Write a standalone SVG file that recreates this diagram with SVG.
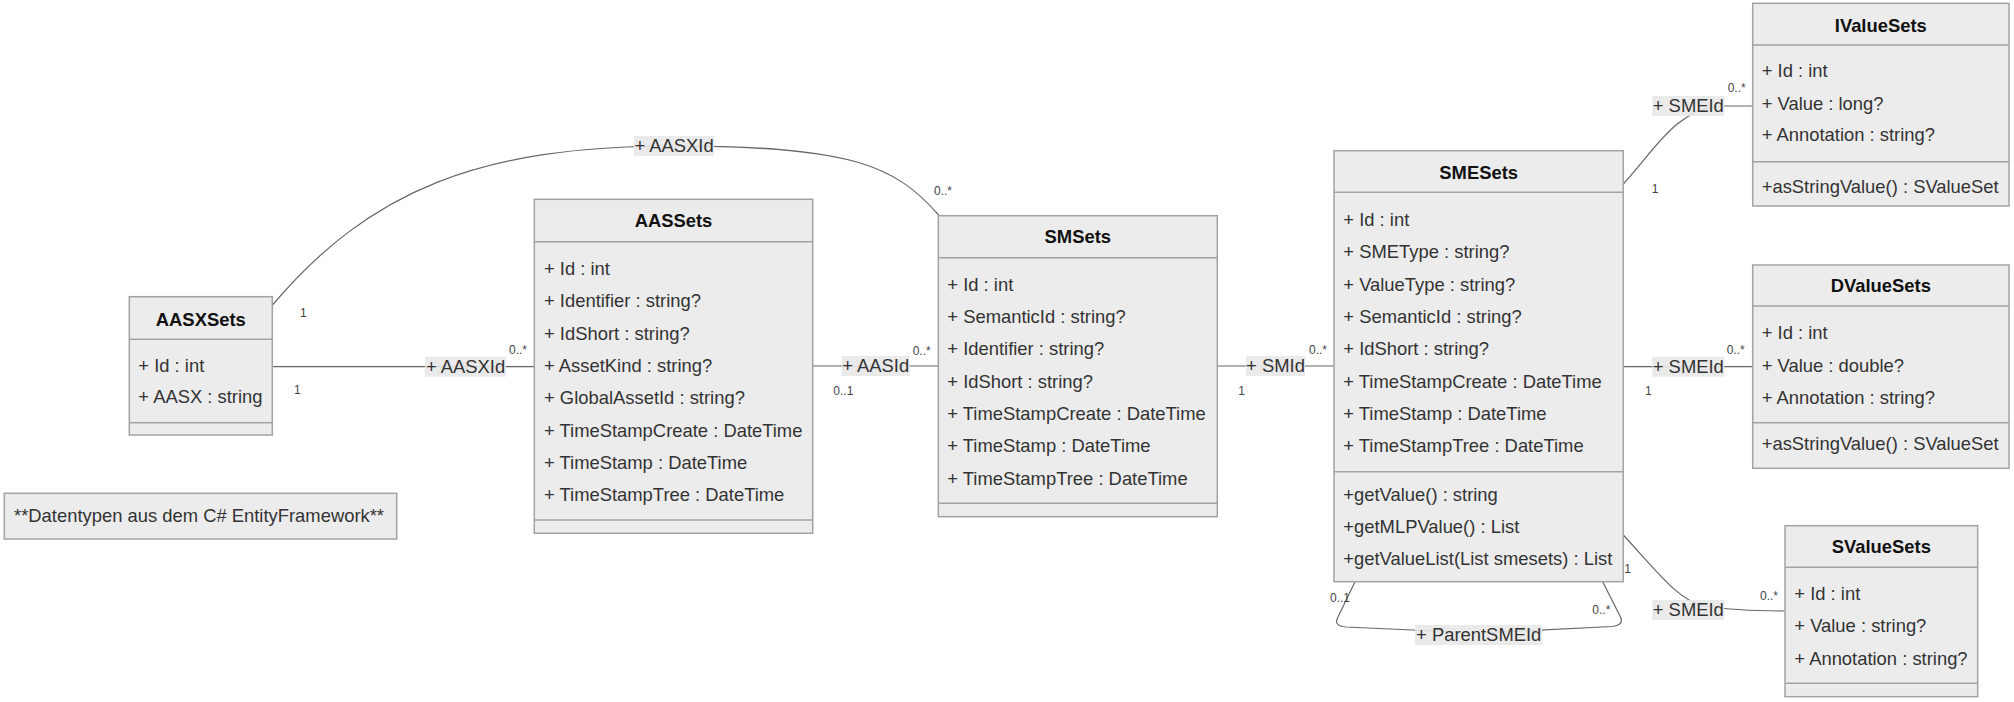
<svg xmlns="http://www.w3.org/2000/svg" width="2014" height="702" viewBox="0 0 2014 702">
  <style>
    text { font-family: "Liberation Sans", Arial, sans-serif; }
    .box { fill: #ececec; stroke: #a3a3a3; stroke-width: 1.5; }
    .sep { stroke: #a3a3a3; stroke-width: 1.5; }
    .title { font-size: 18.4px; font-weight: bold; fill: #111; text-anchor: middle; }
    .mem { font-size: 18.4px; fill: #333; }
    .edge { fill: none; stroke: #666; stroke-width: 1.2; }
    .lblbg { fill: #e8e8e8; opacity: 0.9; }
    .lbl { font-size: 18.4px; fill: #333; text-anchor: middle; }
    .card { font-size: 12px; fill: #444; }
  </style>

  <rect width="2014" height="702" fill="#ffffff"/>

  <!-- associations -->
  <g id="connectors">
    <!-- AASXSets to SMSets (curved) -->
    <path class="edge" d="M272.5,305 C370,190 480,146 674,146 C850,146 895,165 938.6,215"/>
    <!-- AASXSets to AASSets -->
    <path class="edge" d="M272.3,366.7 L534.3,366.7"/>
    <!-- AASSets to SMSets -->
    <path class="edge" d="M812.7,366 L938.3,366"/>
    <!-- SMSets to SMESets -->
    <path class="edge" d="M1217.3,366 L1334,366"/>
    <!-- SMESets to IValueSets -->
    <path class="edge" d="M1623.3,184 C1655,150 1675,110 1720,106 L1752.7,106"/>
    <!-- SMESets to DValueSets -->
    <path class="edge" d="M1623.3,366.7 L1752.7,366.7"/>
    <!-- SMESets to SValueSets -->
    <path class="edge" d="M1623.3,535 C1660,575 1680,602 1705,606 C1730,610 1750,611 1785,611"/>
    <!-- SMESets parent self reference -->
    <path class="edge" d="M1355,581.7 L1338,617 Q1333,626 1346,627 L1478.7,633 L1612,626.5 Q1625,625 1620,616 L1602.7,581.7"/>

    <!-- edge labels -->
    <rect class="lblbg" x="634" y="136" width="80" height="20"/>
    <text class="lbl" x="674" y="152.3">+ AASXId</text>

    <rect class="lblbg" x="425" y="356.7" width="81" height="20"/>
    <text class="lbl" x="465.5" y="373">+ AASXId</text>

    <rect class="lblbg" x="841.7" y="356" width="68" height="20"/>
    <text class="lbl" x="875.7" y="372.4">+ AASId</text>

    <rect class="lblbg" x="1246" y="356" width="59" height="20"/>
    <text class="lbl" x="1275.5" y="372.4">+ SMId</text>

    <rect class="lblbg" x="1652.3" y="96" width="72" height="20"/>
    <text class="lbl" x="1688.3" y="112.4">+ SMEId</text>

    <rect class="lblbg" x="1652.3" y="356.7" width="72" height="20"/>
    <text class="lbl" x="1688.3" y="373">+ SMEId</text>

    <rect class="lblbg" x="1652.3" y="600" width="72" height="20"/>
    <text class="lbl" x="1688.3" y="616.4">+ SMEId</text>

    <rect class="lblbg" x="1415" y="625" width="127" height="20"/>
    <text class="lbl" x="1478.7" y="641.4">+ ParentSMEId</text>

    <!-- multiplicities -->
    <text class="card" x="300" y="316.7">1</text>
    <text class="card" x="934" y="195">0..*</text>
    <text class="card" x="294" y="394.3">1</text>
    <text class="card" x="509" y="354">0..*</text>
    <text class="card" x="833.3" y="395">0..1</text>
    <text class="card" x="912.7" y="355">0..*</text>
    <text class="card" x="1238.3" y="395">1</text>
    <text class="card" x="1309" y="354">0..*</text>
    <text class="card" x="1651.7" y="193">1</text>
    <text class="card" x="1727.7" y="91.7">0..*</text>
    <text class="card" x="1645" y="395">1</text>
    <text class="card" x="1726.7" y="354.3">0..*</text>
    <text class="card" x="1624.3" y="573.3">1</text>
    <text class="card" x="1760" y="600">0..*</text>
    <text class="card" x="1330" y="601.7">0..1</text>
    <text class="card" x="1592.3" y="614">0..*</text>
  </g>

  <!-- AASXSets -->
  <g id="AASXSets">
    <rect class="box" x="129.3" y="296.7" width="143" height="138.3"/>
    <line class="sep" x1="129.3" y1="339.3" x2="272.3" y2="339.3"/>
    <line class="sep" x1="129.3" y1="422.7" x2="272.3" y2="422.7"/>
    <text class="title" x="200.8" y="325.7">AASXSets</text>
    <text class="mem" x="138.3" y="371.7">+ Id : int</text>
    <text class="mem" x="138.3" y="403.3">+ AASX : string</text>
  </g>

  <!-- AASSets -->
  <g id="AASSets">
    <rect class="box" x="534.3" y="199.3" width="278.4" height="334"/>
    <line class="sep" x1="534.3" y1="241.7" x2="812.7" y2="241.7"/>
    <line class="sep" x1="534.3" y1="520" x2="812.7" y2="520"/>
    <text class="title" x="673.5" y="227.3">AASSets</text>
    <text class="mem" x="544" y="275">+ Id : int</text>
    <text class="mem" x="544" y="307.3">+ Identifier : string?</text>
    <text class="mem" x="544" y="339.7">+ IdShort : string?</text>
    <text class="mem" x="544" y="372">+ AssetKind : string?</text>
    <text class="mem" x="544" y="404.3">+ GlobalAssetId : string?</text>
    <text class="mem" x="544" y="436.7">+ TimeStampCreate : DateTime</text>
    <text class="mem" x="544" y="469">+ TimeStamp : DateTime</text>
    <text class="mem" x="544" y="501.3">+ TimeStampTree : DateTime</text>
  </g>

  <!-- SMSets -->
  <g id="SMSets">
    <rect class="box" x="938.3" y="215.7" width="279" height="301"/>
    <line class="sep" x1="938.3" y1="257.7" x2="1217.3" y2="257.7"/>
    <line class="sep" x1="938.3" y1="503.3" x2="1217.3" y2="503.3"/>
    <text class="title" x="1077.8" y="243.3">SMSets</text>
    <text class="mem" x="947.3" y="290.7">+ Id : int</text>
    <text class="mem" x="947.3" y="323">+ SemanticId : string?</text>
    <text class="mem" x="947.3" y="355.3">+ Identifier : string?</text>
    <text class="mem" x="947.3" y="387.7">+ IdShort : string?</text>
    <text class="mem" x="947.3" y="420">+ TimeStampCreate : DateTime</text>
    <text class="mem" x="947.3" y="452.3">+ TimeStamp : DateTime</text>
    <text class="mem" x="947.3" y="484.7">+ TimeStampTree : DateTime</text>
  </g>

  <!-- SMESets -->
  <g id="SMESets">
    <rect class="box" x="1334" y="150.7" width="289.3" height="431"/>
    <line class="sep" x1="1334" y1="192.3" x2="1623.3" y2="192.3"/>
    <line class="sep" x1="1334" y1="471.7" x2="1623.3" y2="471.7"/>
    <text class="title" x="1478.7" y="179">SMESets</text>
    <text class="mem" x="1343.3" y="226">+ Id : int</text>
    <text class="mem" x="1343.3" y="258.3">+ SMEType : string?</text>
    <text class="mem" x="1343.3" y="290.7">+ ValueType : string?</text>
    <text class="mem" x="1343.3" y="323">+ SemanticId : string?</text>
    <text class="mem" x="1343.3" y="355.3">+ IdShort : string?</text>
    <text class="mem" x="1343.3" y="387.7">+ TimeStampCreate : DateTime</text>
    <text class="mem" x="1343.3" y="420">+ TimeStamp : DateTime</text>
    <text class="mem" x="1343.3" y="452.3">+ TimeStampTree : DateTime</text>
    <text class="mem" x="1343.3" y="500.7">+getValue() : string</text>
    <text class="mem" x="1343.3" y="533">+getMLPValue() : List</text>
    <text class="mem" x="1343.3" y="565.3">+getValueList(List smesets) : List</text>
  </g>

  <!-- IValueSets -->
  <g id="IValueSets">
    <rect class="box" x="1752.7" y="3.3" width="256.3" height="202.7"/>
    <line class="sep" x1="1752.7" y1="45" x2="2009" y2="45"/>
    <line class="sep" x1="1752.7" y1="161.7" x2="2009" y2="161.7"/>
    <text class="title" x="1880.8" y="31.7">IValueSets</text>
    <text class="mem" x="1761.7" y="77.3">+ Id : int</text>
    <text class="mem" x="1761.7" y="109.7">+ Value : long?</text>
    <text class="mem" x="1761.7" y="141.3">+ Annotation : string?</text>
    <text class="mem" x="1761.7" y="193.3">+asStringValue() : SValueSet</text>
  </g>

  <!-- DValueSets -->
  <g id="DValueSets">
    <rect class="box" x="1752.7" y="265" width="256.3" height="203.3"/>
    <line class="sep" x1="1752.7" y1="306" x2="2009" y2="306"/>
    <line class="sep" x1="1752.7" y1="422.7" x2="2009" y2="422.7"/>
    <text class="title" x="1880.8" y="291.7">DValueSets</text>
    <text class="mem" x="1761.7" y="339.3">+ Id : int</text>
    <text class="mem" x="1761.7" y="371.7">+ Value : double?</text>
    <text class="mem" x="1761.7" y="404">+ Annotation : string?</text>
    <text class="mem" x="1761.7" y="450">+asStringValue() : SValueSet</text>
  </g>

  <!-- SValueSets -->
  <g id="SValueSets">
    <rect class="box" x="1785" y="525.7" width="192.7" height="171"/>
    <line class="sep" x1="1785" y1="567.3" x2="1977.7" y2="567.3"/>
    <line class="sep" x1="1785" y1="683.3" x2="1977.7" y2="683.3"/>
    <text class="title" x="1881.3" y="553.3">SValueSets</text>
    <text class="mem" x="1794.3" y="600">+ Id : int</text>
    <text class="mem" x="1794.3" y="632.3">+ Value : string?</text>
    <text class="mem" x="1794.3" y="664.7">+ Annotation : string?</text>
  </g>

  <!-- note -->
  <g id="note">
    <rect class="box" x="4.3" y="493.3" width="392.4" height="45.7"/>
    <text class="mem" x="14" y="521.7">**Datentypen aus dem C# EntityFramework**</text>
  </g>
</svg>
